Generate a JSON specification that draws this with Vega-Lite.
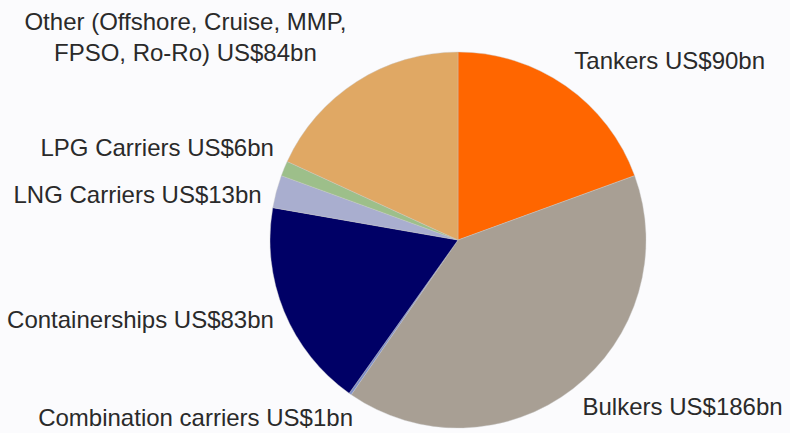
{
  "$schema": "https://vega.github.io/schema/vega-lite/v6.json",
  "autosize": "none",
  "width": 664,
  "height": 376,
  "padding": {"left": 126, "top": 52, "right": 0, "bottom": 5},
  "background": "#fbfbfd",
  "view": {"stroke": null},
  "config": {"text": {"font": "Liberation Sans", "fontSize": 24, "color": "#2a2a2a"}},
  "data": {
    "values": [
      {"idx": 1, "name": "Tankers", "value": 90, "label": "Tankers US$90bn"},
      {"idx": 2, "name": "Bulkers", "value": 186, "label": "Bulkers US$186bn"},
      {"idx": 3, "name": "Combination carriers", "value": 1, "label": "Combination carriers US$1bn"},
      {"idx": 4, "name": "Containerships", "value": 83, "label": "Containerships US$83bn"},
      {"idx": 5, "name": "LNG Carriers", "value": 13, "label": "LNG Carriers US$13bn"},
      {"idx": 6, "name": "LPG Carriers", "value": 6, "label": "LPG Carriers US$6bn"},
      {"idx": 7, "name": "Other", "value": 84, "label": "Other (Offshore, Cruise, MMP,|FPSO, Ro-Ro) US$84bn"}
    ]
  },
  "encoding": {
    "theta": {"field": "value", "type": "quantitative", "stack": true},
    "order": {"field": "idx", "type": "quantitative"}
  },
  "layer": [
    {
      "mark": {"type": "arc", "stroke": "#c8c8c8", "strokeWidth": 0.4},
      "encoding": {
        "color": {
          "field": "name",
          "type": "nominal",
          "scale": {
            "domain": ["Tankers", "Bulkers", "Combination carriers", "Containerships", "LNG Carriers", "LPG Carriers", "Other"],
            "range": ["#ff6600", "#a89f94", "#7f8fc8", "#000066", "#a9aecf", "#9dbf8a", "#e0a864"]
          },
          "legend": null
        }
      }
    },
    {
      "mark": {"type": "text", "radius": 215, "align": "left", "baseline": "middle", "dx": -7, "dy": -2},
      "encoding": {
        "text": {"condition": {"test": "datum.idx <= 2", "field": "label"}, "value": ""}
      }
    },
    {
      "mark": {"type": "text", "radius": 225, "align": "right", "baseline": "middle", "dx": 24, "dy": -5},
      "encoding": {
        "text": {"condition": {"test": "datum.idx == 3 || datum.idx == 4 || datum.idx == 6", "field": "label"}, "value": ""}
      }
    },
    {
      "mark": {"type": "text", "radius": 225, "align": "right", "baseline": "middle", "dx": 21, "dy": 14},
      "encoding": {
        "text": {"condition": {"test": "datum.idx == 5", "field": "label"}, "value": ""}
      }
    },
    {
      "mark": {"type": "text", "radius": 205, "align": "center", "baseline": "middle", "dx": -162, "dy": -44, "lineBreak": "|", "lineHeight": 31},
      "encoding": {
        "text": {"condition": {"test": "datum.idx == 7", "field": "label"}, "value": ""}
      }
    }
  ]
}
